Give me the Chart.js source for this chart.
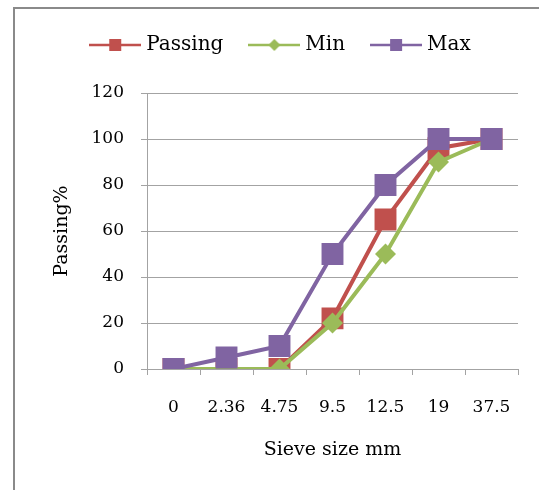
<!DOCTYPE html>
<html>
<head>
<meta charset="utf-8">
<script src="https://cdn.jsdelivr.net/npm/chart.js@4/dist/chart.umd.min.js"></script>
<style>
  html, body { margin: 0; padding: 0; background: #fff; }
  #wrap { position: relative; width: 539px; height: 490px; overflow: hidden; }
  #frame { position: absolute; left: 13px; top: 7px; width: 700px; height: 700px;
           border-left: 2px solid #8a8a8a; border-top: 2px solid #8a8a8a; }
  canvas { position: absolute; left: 0; top: 0; }
</style>
</head>
<body>
<div id="wrap">
  <div id="frame"></div>
  <canvas id="c" width="539" height="490"></canvas>
</div>
<script>
const categories = ['0', '2.36', '4.75', '9.5', '12.5', '19', '37.5'];
const passing = [0, 0, 0, 22, 65, 96, 100];
const minVals = [0, 0, 0, 20, 50, 90, 100];
const maxVals = [0, 5, 10, 50, 80, 100, 100];
const seriesNames = ['Passing', 'Min', 'Max'];
const yMin = 0, yMax = 120, yStep = 20;

const RED = '#C0504D', GREEN = '#9BBB59', PURPLE = '#8064A2';
const GRID = '#a3a3a3';
const FONT = "'DejaVu Serif', serif";

function legendIcon(color, shape) {
  const cv = document.createElement('canvas');
  cv.width = 52; cv.height = 22;
  const g = cv.getContext('2d');
  g.strokeStyle = color; g.lineWidth = 2.5;
  g.beginPath(); g.moveTo(0, 11); g.lineTo(52, 11); g.stroke();
  g.fillStyle = color;
  if (shape === 'rect') {
    g.fillRect(20, 5, 12, 12);
  } else {
    g.beginPath();
    g.moveTo(26, 5); g.lineTo(32, 11); g.lineTo(26, 17); g.lineTo(20, 11); g.closePath();
    g.fill();
  }
  return cv;
}
const icons = [legendIcon(RED, 'rect'), legendIcon(GREEN, 'diamond'), legendIcon(PURPLE, 'rect')];

const legendMargin = {
  id: 'legendMargin',
  beforeInit(chart) {
    const orig = chart.legend.fit;
    chart.legend.fit = function () { orig.call(this); this.height += 28; };
  }
};

Chart.defaults.color = '#000';
Chart.defaults.font.family = FONT;

new Chart(document.getElementById('c'), {
  type: 'line',
  data: {
    labels: categories,
    datasets: [
      { label: seriesNames[0], data: passing, borderColor: RED, backgroundColor: RED,
        borderWidth: 4, pointStyle: 'rect', pointRadius: 15.5, pointHoverRadius: 15.5,
        pointBorderWidth: 0, order: 3 },
      { label: seriesNames[1], data: minVals, borderColor: GREEN, backgroundColor: GREEN,
        borderWidth: 4, pointStyle: 'rectRot', pointRadius: 10.5, pointHoverRadius: 10.5,
        pointBorderWidth: 0, order: 2 },
      { label: seriesNames[2], data: maxVals, borderColor: PURPLE, backgroundColor: PURPLE,
        borderWidth: 4, pointStyle: 'rect', pointRadius: 15.5, pointHoverRadius: 15.5,
        pointBorderWidth: 0, order: 1 }
    ]
  },
  options: {
    responsive: false,
    animation: false,
    layout: { padding: { left: 47, right: 21, top: 5, bottom: 25 } },
    plugins: {
      tooltip: { enabled: false },
      legend: {
        position: 'top',
        labels: {
          usePointStyle: true,
          pointStyleWidth: 42,
          padding: 30,
          font: { family: FONT, size: 20 },
          color: '#000',
          sort: (a, b) => a.datasetIndex - b.datasetIndex,
          generateLabels(chart) {
            const items = Chart.defaults.plugins.legend.labels.generateLabels(chart);
            items.forEach(it => { it.pointStyle = icons[it.datasetIndex]; });
            return items;
          }
        }
      }
    },
    scales: {
      x: {
        type: 'category',
        offset: true,
        afterFit(scale) { scale.height = 96; },
        grid: { offset: true, drawOnChartArea: false, drawTicks: true, tickLength: 6, color: GRID },
        border: { color: GRID, width: 1 },
        ticks: { font: { family: FONT, size: 17 }, color: '#000', padding: 22, maxRotation: 0 },
        title: { display: true, text: 'Sieve size mm', font: { family: FONT, size: 19 },
                 color: '#000', padding: { top: 20, bottom: 4 } }
      },
      y: {
        min: yMin, max: yMax,
        afterFit(scale) { scale.width = 100; },
        grid: { color: GRID, tickLength: 6, drawTicks: true },
        border: { color: GRID, width: 1 },
        ticks: { stepSize: yStep, font: { family: FONT, size: 17 }, color: '#000', padding: 17 },
        title: { display: true, text: 'Passing%', font: { family: FONT, size: 19 },
                 color: '#000', padding: { top: 4, bottom: 19 } }
      }
    }
  },
  plugins: [legendMargin]
});
</script>
</body>
</html>
